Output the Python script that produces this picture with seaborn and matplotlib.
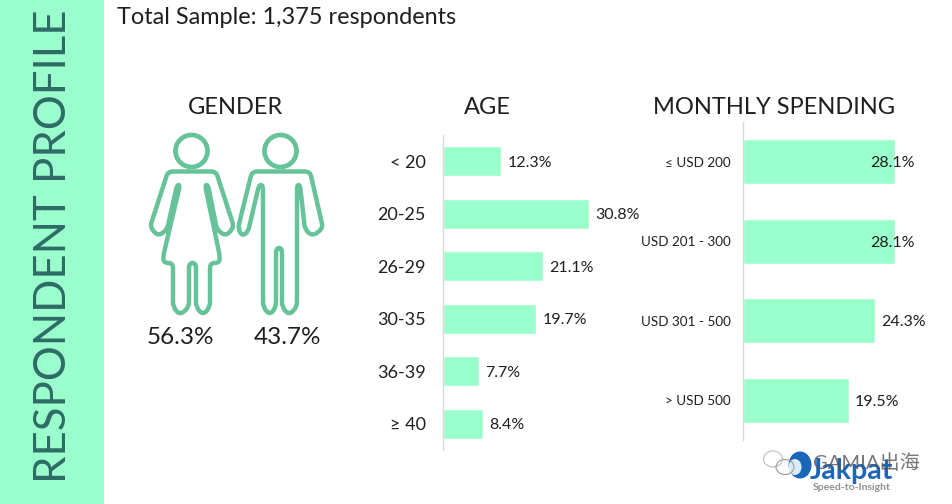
import matplotlib
matplotlib.use('Agg')
import matplotlib.pyplot as plt
from matplotlib.patches import Circle, PathPatch, Rectangle, Ellipse
from matplotlib.path import Path
import seaborn as sns
import pandas as pd

age_labels = ['< 20', '20-25', '26-29', '30-35', '36-39', '≥ 40']
age_values = [12.3, 30.8, 21.1, 19.7, 7.7, 8.4]
spend_labels = ['≤ USD 200', 'USD 201 - 300', 'USD 301 - 500', '> USD 500']
spend_values = [28.1, 28.1, 24.3, 19.5]
gender_labels = ['56.3%', '43.7%']

W, H = 952, 504
MINT = '#9BFFCD'
ICON = '#66C298'
TEXT = '#1f1f1f'

# icon outlines, traced in pixels of the picture
woman = [(168, 171.5), (216, 171.5), (234, 227), (226, 236), (217, 230), (208, 185), (205, 185),
         (220, 257), (219, 263), (210, 263), (210, 307), (203, 315), (196, 307), (196, 263),
         (189, 263), (189, 307), (180, 315), (173, 307), (173, 263), (164, 263), (163, 257),
         (180, 185), (177, 185), (167, 230), (158, 236), (150, 227)]
man = [(252, 171.5), (310, 171.5), (323, 228), (313, 236), (305, 230), (300, 185), (297, 185),
       (297, 307), (289, 315), (282, 307), (282, 248), (276, 248), (276, 307), (270, 315),
       (263, 307), (263, 185), (259, 185), (248, 232), (242, 236), (238, 228)]


def rounded(points, r=5):
    # closed path with soft corners
    verts, codes = [], []
    n = len(points)
    for i in range(n):
        px, py = points[i - 1]
        x, y = points[i]
        nx, ny = points[(i + 1) % n]
        d1 = max(((x - px) ** 2 + (y - py) ** 2) ** 0.5, 1e-6)
        d2 = max(((x - nx) ** 2 + (y - ny) ** 2) ** 0.5, 1e-6)
        t1 = min(r, d1 / 2) / d1
        t2 = min(r, d2 / 2) / d2
        a = (x + (px - x) * t1, y + (py - y) * t1)
        b = (x + (nx - x) * t2, y + (ny - y) * t2)
        verts += [a, (x, y), b]
        codes += [Path.MOVETO if i == 0 else Path.LINETO, Path.CURVE3, Path.CURVE3]
    verts.append(verts[0])
    codes.append(Path.CLOSEPOLY)
    return Path(verts, codes)


def bar_panel(fig, box, labels, values, xmax, label_size, gap):
    left, top, right, bottom = box
    ax = fig.add_axes([left / W, 1 - bottom / H, (right - left) / W, (bottom - top) / H])
    df = pd.DataFrame({'label': labels, 'value': values})
    sns.barplot(data=df, x='value', y='label', orient='h', color=MINT, saturation=1, width=0.57, ax=ax)
    ax.set_xlim(0, xmax)
    ax.set_xlabel('')
    ax.set_ylabel('')
    ax.set_xticks([])
    ax.tick_params(axis='y', length=0, pad=gap, labelsize=label_size, labelcolor=TEXT)
    sns.despine(ax=ax, top=True, right=True, bottom=True)
    ax.spines['left'].set_color('#d9d9d9')
    ax.spines['left'].set_linewidth(1)
    ax.patch.set_alpha(0)
    return ax


def main():
    sns.set_style('white')
    plt.rcParams['font.family'] = ['Lato', 'DejaVu Sans', 'Noto Sans CJK SC']
    fig = plt.figure(figsize=(W / 100, H / 100), dpi=100)

    # page layer in pixel coordinates
    bg = fig.add_axes([0, 0, 1, 1])
    bg.set_xlim(0, W)
    bg.set_ylim(H, 0)
    bg.axis('off')
    bg.add_patch(Rectangle((0, 0), 104, H, color=MINT, lw=0))
    bg.text(54, 246.5, 'RESPONDENT PROFILE', rotation=90, ha='center', va='center', fontsize=31.5, color='#2E6B66')
    bg.text(117, 18, 'Total Sample: 1,375 respondents', ha='left', va='center', fontsize=16.9, color=TEXT)
    bg.text(235.5, 108, 'GENDER', ha='center', va='center', fontsize=17, color=TEXT)
    bg.text(487, 108, 'AGE', ha='center', va='center', fontsize=17, color=TEXT)
    bg.text(774, 108, 'MONTHLY SPENDING', ha='center', va='center', fontsize=17, color=TEXT)

    for cx in (191.5, 280.5):
        bg.add_patch(Circle((cx, 151), 16, fill=False, ec=ICON, lw=3.4))
    bg.add_patch(PathPatch(rounded(woman), fill=False, ec=ICON, lw=3.2, joinstyle='round'))
    bg.add_patch(PathPatch(rounded(man), fill=False, ec=ICON, lw=3.2, joinstyle='round'))
    bg.text(180, 338, gender_labels[0], ha='center', va='center', fontsize=17.5, color=TEXT)
    bg.text(287, 338, gender_labels[1], ha='center', va='center', fontsize=17.5, color=TEXT)

    # bar panels
    age_ax = bar_panel(fig, (443, 135, 653, 450), age_labels, age_values, 44.4, 13, 12.5)
    for v, p in zip(age_values, age_ax.patches):
        age_ax.text(v + 1.3, p.get_y() + p.get_height() / 2, f'{v}%', va='center_baseline', fontsize=11.5, color=TEXT)
    spend_ax = bar_panel(fig, (743, 122, 940, 440), spend_labels, spend_values, 36.4, 9.7, 8.7)
    for v, p in zip(spend_values, spend_ax.patches):
        spend_ax.text(v + (-4.6 if v > 25 else 1.2), p.get_y() + p.get_height() / 2, f'{v}%',
                      va='center_baseline', fontsize=11.5, color=TEXT)

    # logo and watermark in the corner
    top = fig.add_axes([0, 0, 1, 1])
    top.set_xlim(0, W)
    top.set_ylim(H, 0)
    top.axis('off')
    top.patch.set_alpha(0)
    top.add_patch(Ellipse((800, 465), 23, 27, color='#1B66B8', lw=0))
    top.add_patch(Ellipse((795, 467), 13, 16, color='#DDEBF6', lw=0))
    top.add_patch(Ellipse((773, 459), 19, 16, fill=False, ec='#bdbdbd', lw=0.8))
    top.add_patch(Ellipse((785, 467), 18, 15, fill=False, ec='#9a9a9a', lw=0.8))
    top.text(851, 471, 'Jakpat', ha='center', va='center', fontsize=20.5, fontweight='bold', color='#1B66B8')
    top.text(866, 463, 'GAMIA出海', ha='center', va='center', fontsize=14.5, color='#555555', alpha=0.8)
    top.text(852, 487, 'Speed-to-Insight', ha='center', va='center', fontsize=7.5, fontweight='bold', color='#8f8f8f')

    fig.savefig('out.png', dpi=100)


if __name__ == '__main__':
    main()
